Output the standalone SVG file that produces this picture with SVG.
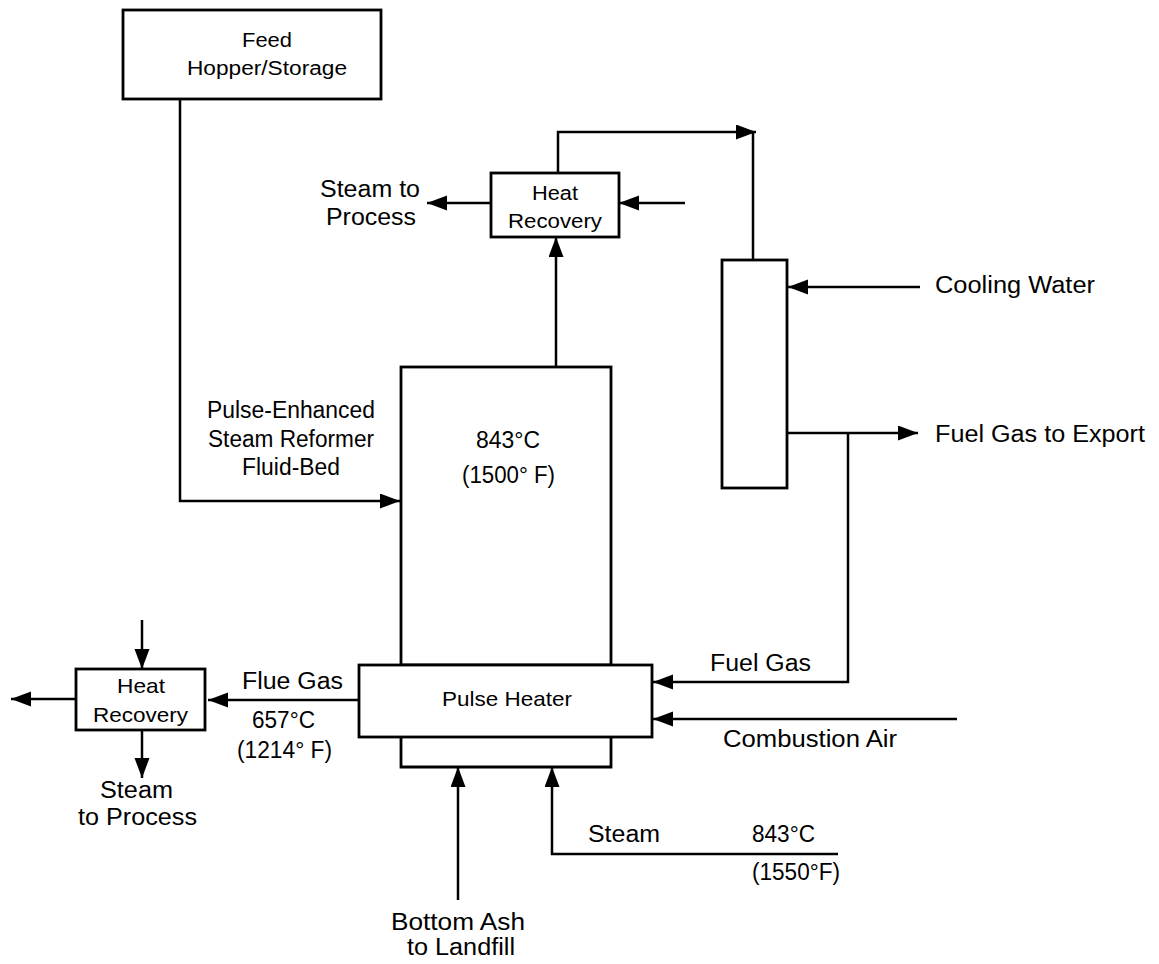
<svg xmlns="http://www.w3.org/2000/svg" width="1159" height="964" viewBox="0 0 1159 964">
<style>
.box{fill:#fff;stroke:#000;stroke-width:2.8}
.ln{fill:none;stroke:#000;stroke-width:2.5}
.arr{marker-end:url(#ah)}
text{font-family:"Liberation Sans",Arial,sans-serif;font-size:23px;fill:#000}
.s20{font-size:20px}
.s21{font-size:21px}
</style>
<defs>
<marker id="ah" markerUnits="userSpaceOnUse" markerWidth="22" markerHeight="16" refX="20" refY="7.5" orient="auto">
<path d="M0,0 L20,7.5 L0,15 z" fill="#000"/>
</marker>
</defs>
<rect width="1159" height="964" fill="#fff"/>
<g id="connectors">
<path class="ln arr" d="M180,99 V501 H400"/>
<path class="ln arr" d="M556,367 V237"/>
<path class="ln arr" d="M491,203 H427"/>
<path class="ln arr" d="M685,203 H619"/>
<path class="ln arr" d="M558,173 V132 H756"/>
<path class="ln" d="M753,132 V260"/>
<path class="ln arr" d="M920,287 H788"/>
<path class="ln arr" d="M787,433 H918"/>
<path class="ln arr" d="M848,433 V682 H653"/>
<path class="ln arr" d="M957,719 H653"/>
<path class="ln arr" d="M359,700 H208"/>
<path class="ln arr" d="M76,699 H11"/>
<path class="ln arr" d="M142,620 V669"/>
<path class="ln arr" d="M142,730 V778"/>
<path class="ln arr" d="M458,900 V767"/>
<path class="ln arr" d="M838,854 H552 V767"/>
</g>
<g id="hopper">
<rect class="box" x="123" y="10" width="258" height="89"/>
<text class="s20" x="242" y="47" textLength="50" lengthAdjust="spacingAndGlyphs">Feed</text>
<text class="s20" x="187" y="75" textLength="160" lengthAdjust="spacingAndGlyphs">Hopper/Storage</text>
</g>
<g id="heat-recovery-top">
<rect class="box" x="491" y="173" width="128" height="64"/>
<text class="s20" x="532" y="200" textLength="46" lengthAdjust="spacingAndGlyphs">Heat</text>
<text class="s20" x="508" y="228" textLength="94" lengthAdjust="spacingAndGlyphs">Recovery</text>
</g>
<g id="steam-to-process-top">
<text x="320" y="197" textLength="100" lengthAdjust="spacingAndGlyphs">Steam to</text>
<text x="326" y="225" textLength="90" lengthAdjust="spacingAndGlyphs">Process</text>
</g>
<g id="reactor">
<rect class="box" x="401" y="367" width="210" height="298"/>
<text x="476" y="448" textLength="64" lengthAdjust="spacingAndGlyphs">843°C</text>
<text x="462" y="483" textLength="93" lengthAdjust="spacingAndGlyphs">(1500° F)</text>
</g>
<g id="reactor-label">
<text x="207" y="418" textLength="168" lengthAdjust="spacingAndGlyphs">Pulse-Enhanced</text>
<text x="208" y="447" textLength="166" lengthAdjust="spacingAndGlyphs">Steam Reformer</text>
<text x="242" y="475" textLength="98" lengthAdjust="spacingAndGlyphs">Fluid-Bed</text>
</g>
<g id="column">
<rect class="box" x="722" y="260" width="65" height="228"/>
</g>
<g id="cooling-water">
<text x="935" y="293" textLength="160" lengthAdjust="spacingAndGlyphs">Cooling Water</text>
</g>
<g id="fuel-gas-export">
<text x="935" y="442" textLength="210" lengthAdjust="spacingAndGlyphs">Fuel Gas to Export</text>
</g>
<g id="pulse-heater">
<rect class="box" x="359" y="665" width="293" height="72"/>
<path class="ln" style="stroke-width:2.8" d="M401,737 V767 H611 V737"/>
<text class="s21" x="442" y="706" textLength="130" lengthAdjust="spacingAndGlyphs">Pulse Heater</text>
</g>
<g id="fuel-gas">
<text x="710" y="671" textLength="101" lengthAdjust="spacingAndGlyphs">Fuel Gas</text>
</g>
<g id="combustion-air">
<text x="723" y="747" textLength="174" lengthAdjust="spacingAndGlyphs">Combustion Air</text>
</g>
<g id="flue-gas">
<text x="242" y="689" textLength="101" lengthAdjust="spacingAndGlyphs">Flue Gas</text>
<text x="252" y="728" textLength="63" lengthAdjust="spacingAndGlyphs">657°C</text>
<text x="237" y="758" textLength="95" lengthAdjust="spacingAndGlyphs">(1214° F)</text>
</g>
<g id="heat-recovery-left">
<rect class="box" x="76" y="669" width="129" height="61"/>
<text class="s21" x="117" y="693" textLength="48" lengthAdjust="spacingAndGlyphs">Heat</text>
<text class="s21" x="93" y="722" textLength="95" lengthAdjust="spacingAndGlyphs">Recovery</text>
</g>
<g id="steam-to-process-left">
<text x="100" y="798" textLength="73" lengthAdjust="spacingAndGlyphs">Steam</text>
<text x="78" y="825" textLength="119" lengthAdjust="spacingAndGlyphs">to Process</text>
</g>
<g id="steam-in">
<text x="588" y="842" textLength="72" lengthAdjust="spacingAndGlyphs">Steam</text>
<text x="752" y="842" textLength="63" lengthAdjust="spacingAndGlyphs">843°C</text>
<text x="752" y="880" textLength="88" lengthAdjust="spacingAndGlyphs">(1550°F)</text>
</g>
<g id="bottom-ash">
<text x="391" y="930" textLength="134" lengthAdjust="spacingAndGlyphs">Bottom Ash</text>
<text x="407" y="955" textLength="108" lengthAdjust="spacingAndGlyphs">to Landfill</text>
</g>
</svg>
